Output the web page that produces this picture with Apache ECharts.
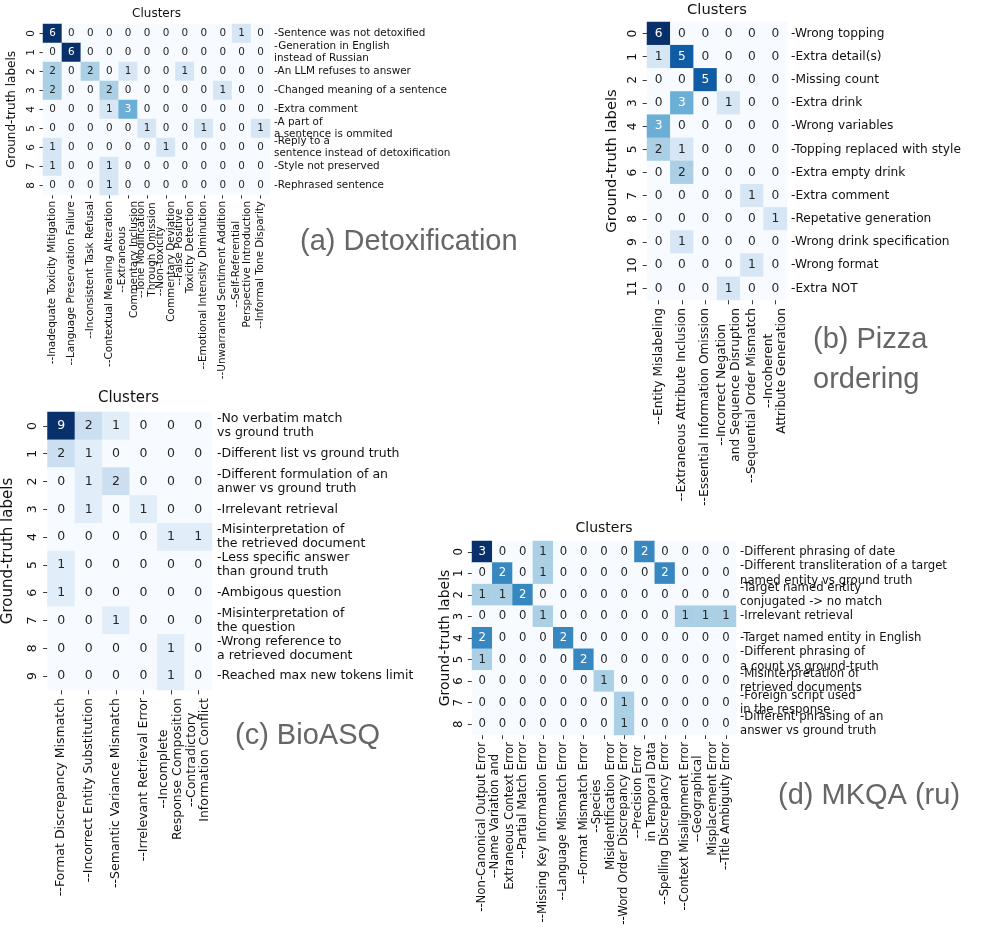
<!DOCTYPE html>
<html><head><meta charset="utf-8">
<script src="https://cdn.jsdelivr.net/npm/echarts@6/dist/echarts.min.js"></script>
<style>html,body{margin:0;padding:0;background:#fff}#c{width:996px;height:947px}</style>
</head><body><div id="c"></div>
<script>
// ---------- DATA ----------
const detoxClusters = [
  "--Inadequate Toxicity Mitigation",
  "--Language Preservation Failure",
  "--Inconsistent Task Refusal",
  "--Contextual Meaning Alteration",
  "--Extraneous\nCommentary Inclusion",
  "--Tone Modification\nThrough Omission",
  "--Non-toxicity\nCommentary Deviation",
  "--False Positive\nToxicity Detection",
  "--Emotional Intensity Diminution",
  "--Unwarranted Sentiment Addition",
  "--Self-Referential\nPerspective Introduction",
  "--Informal Tone Disparity"
];
const detoxLabels = [
  "-Sentence was not detoxified",
  "-Generation in English\ninstead of Russian",
  "-An LLM refuses to answer",
  "-Changed meaning of a sentence",
  "-Extra comment",
  "-A part of\na sentence is ommited",
  "-Reply to a\nsentence instead of detoxification",
  "-Style not preserved",
  "-Rephrased sentence"
];
const detoxValues = [
  [6,0,0,0,0,0,0,0,0,0,1,0],
  [0,6,0,0,0,0,0,0,0,0,0,0],
  [2,0,2,0,1,0,0,1,0,0,0,0],
  [2,0,0,2,0,0,0,0,0,1,0,0],
  [0,0,0,1,3,0,0,0,0,0,0,0],
  [0,0,0,0,0,1,0,0,1,0,0,1],
  [1,0,0,0,0,0,1,0,0,0,0,0],
  [1,0,0,1,0,0,0,0,0,0,0,0],
  [0,0,0,1,0,0,0,0,0,0,0,0]
];

const pizzaClusters = [
  "--Entity Mislabeling",
  "--Extraneous Attribute Inclusion",
  "--Essential Information Omission",
  "--Incorrect Negation\nand Sequence Disruption",
  "--Sequential Order Mismatch",
  "--Incoherent\nAttribute Generation"
];
const pizzaLabels = [
  "-Wrong topping","-Extra detail(s)","-Missing count","-Extra drink",
  "-Wrong variables","-Topping replaced with style","-Extra empty drink",
  "-Extra comment","-Repetative generation","-Wrong drink specification",
  "-Wrong format","-Extra NOT"
];
const pizzaValues = [
  [6,0,0,0,0,0],
  [1,5,0,0,0,0],
  [0,0,5,0,0,0],
  [0,3,0,1,0,0],
  [3,0,0,0,0,0],
  [2,1,0,0,0,0],
  [0,2,0,0,0,0],
  [0,0,0,0,1,0],
  [0,0,0,0,0,1],
  [0,1,0,0,0,0],
  [0,0,0,0,1,0],
  [0,0,0,1,0,0]
];

const bioClusters = [
  "--Format Discrepancy Mismatch",
  "--Incorrect Entity Substitution",
  "--Semantic Variance Mismatch",
  "--Irrelevant Retrieval Error",
  "--Incomplete\nResponse Composition",
  "--Contradictory\nInformation Conflict"
];
const bioLabels = [
  "-No verbatim match\nvs ground truth",
  "-Different list vs ground truth",
  "-Different formulation of an\nanwer vs ground truth",
  "-Irrelevant retrieval",
  "-Misinterpretation of\nthe retrieved document",
  "-Less specific answer\nthan ground truth",
  "-Ambigous question",
  "-Misinterpretation of\nthe question",
  "-Wrong reference to\na retrieved document",
  "-Reached max new tokens limit"
];
const bioValues = [
  [9,2,1,0,0,0],
  [2,1,0,0,0,0],
  [0,1,2,0,0,0],
  [0,1,0,1,0,0],
  [0,0,0,0,1,1],
  [1,0,0,0,0,0],
  [1,0,0,0,0,0],
  [0,0,1,0,0,0],
  [0,0,0,0,1,0],
  [0,0,0,0,1,0]
];

const mkqaClusters = [
  "--Non-Canonical Output Error",
  "--Name Variation and\nExtraneous Context Error",
  "--Partial Match Error",
  "--Missing Key Information Error",
  "--Language Mismatch Error",
  "--Format Mismatch Error",
  "--Species\nMisidentification Error",
  "--Word Order Discrepancy Error",
  "--Precision Error\nin Temporal Data",
  "--Spelling Discrepancy Error",
  "--Context Misalignment Error",
  "--Geographical\nMisplacement Error",
  "--Title Ambiguity Error"
];
const mkqaLabels = [
  "-Different phrasing of date",
  "-Different transliteration of a target\nnamed entity vs ground truth",
  "-Target named entity\nconjugated -> no match",
  "-Irrelevant retrieval",
  "-Target named entity in English",
  "-Different phrasing of\na count vs ground-truth",
  "-Misinterpretation of\nretrieved documents",
  "-Foreign script used\nin the response",
  "-Different phrasing of an\nanswer vs ground truth"
];
const mkqaValues = [
  [3,0,0,1,0,0,0,0,2,0,0,0,0],
  [0,2,0,1,0,0,0,0,0,2,0,0,0],
  [1,1,2,0,0,0,0,0,0,0,0,0,0],
  [0,0,0,1,0,0,0,0,0,0,1,1,1],
  [2,0,0,0,2,0,0,0,0,0,0,0,0],
  [1,0,0,0,0,2,0,0,0,0,0,0,0],
  [0,0,0,0,0,0,1,0,0,0,0,0,0],
  [0,0,0,0,0,0,0,1,0,0,0,0,0],
  [0,0,0,0,0,0,0,1,0,0,0,0,0]
];

const panelCaptions = ["(a) Detoxification", "(b) Pizza\nordering", "(c) BioASQ", "(d) MKQA (ru)"];
const xTitle = "Clusters";
const yTitle = "Ground-truth labels";

// ---------- LAYOUT / STYLE ----------
const FONT = 'DejaVu Sans';
const CAP_FONT = 'Liberation Sans';
const TXT = '#111';
const BLUES = ['#f7fbff','#deebf7','#c6dbef','#9ecae1','#6baed6','#4292c6','#2171b5','#08519c','#08306b'];

const panels = [
  {clusters: detoxClusters, labels: detoxLabels, values: detoxValues,
   grid:{left:43, top:24, width:227, height:171}, fs:10.4, xlh:11.5, rlh:11.5, tick:3.5, tfs:12,
   nameGap:25, xMargin:6, yMargin:7, rMargin:4, title:[156.5,14],
   cap:{x:300, y:242, lh:40}},
  {clusters: pizzaClusters, labels: pizzaLabels, values: pizzaValues,
   grid:{left:647, top:22, width:140, height:278}, fs:12.2, xlh:13.5, rlh:14, tick:4.3, tfs:14.7,
   nameGap:27, xMargin:8, yMargin:8, rMargin:4, title:[717,10],
   cap:{x:813, y:360, lh:40}},
  {clusters: bioClusters, labels: bioLabels, values: bioValues,
   grid:{left:45, top:412, width:167, height:278}, fs:12.5, xlh:13.7, rlh:14, tick:4.4, tfs:15,
   nameGap:31.5, xMargin:8, yMargin:8, rMargin:5, title:[128.5,398],
   cap:{x:235, y:736, lh:40}},
  {clusters: mkqaClusters, labels: mkqaLabels, values: mkqaValues,
   grid:{left:472, top:541, width:264, height:194}, fs:11.7, xlh:14.2, rlh:14.3, tick:4.1, tfs:14,
   nameGap:19, xMargin:7, yMargin:7, rMargin:4, title:[604,528],
   cap:{x:778, y:796, lh:40}}
];

const option = {
  animation: false,
  backgroundColor: '#fff',
  grid: [], xAxis: [], yAxis: [], series: [], visualMap: [], graphic: []
};

panels.forEach((p, i) => {
  const maxV = Math.max(...p.values.map(r => Math.max(...r)));
  option.grid.push(Object.assign({containLabel:false}, p.grid));
  const tickStyle = {show:true, alignWithLabel:true, length:p.tick, lineStyle:{color:'#222', width:0.9}};
  option.xAxis.push({
    type:'category', gridIndex:i, data:p.clusters, position:'bottom',
    axisLine:{show:false}, axisTick:tickStyle, splitLine:{show:false},
    axisLabel:{
      interval:0, rotate:90, margin:p.xMargin, hideOverlap:false,
      fontFamily:FONT, fontSize:p.fs, color:TXT, lineHeight:p.xlh,
      formatter: v => v.split('\n').map(s => '{c|' + s + '}').join('\n'),
      rich:{c:{align:'center', fontFamily:FONT, fontSize:p.fs, color:TXT, lineHeight:p.xlh}}
    }
  });
  option.yAxis.push({
    type:'category', gridIndex:i, inverse:true, position:'left',
    data:p.values.map((_, r) => String(r)),
    axisLine:{show:false}, axisTick:tickStyle, splitLine:{show:false},
    axisLabel:{interval:0, rotate:90, margin:p.yMargin, fontFamily:FONT, fontSize:p.fs, color:TXT},
    name:yTitle, nameLocation:'middle', nameGap:p.nameGap,
    nameTextStyle:{fontFamily:FONT, fontSize:p.tfs, color:TXT}
  });
  option.yAxis.push({
    type:'category', gridIndex:i, inverse:true, position:'right',
    data:p.labels,
    axisLine:{show:false}, axisTick:{show:false}, splitLine:{show:false},
    axisLabel:{interval:0, margin:p.rMargin, fontFamily:FONT, fontSize:p.fs, color:TXT, lineHeight:p.rlh}
  });
  const data = [];
  p.values.forEach((row, r) => row.forEach((v, c) => {
    data.push({value:[c, r, v], label:{color: v / maxV >= 0.5 ? '#ffffff' : '#262626'}});
  }));
  option.series.push({
    type:'heatmap', xAxisIndex:i, yAxisIndex:2*i, data:data,
    label:{show:true, fontFamily:FONT, fontSize:p.fs},
    itemStyle:{borderWidth:0},
    emphasis:{disabled:true}
  });
  option.visualMap.push({
    type:'continuous', show:false, seriesIndex:i, min:0, max:maxV, dimension:2,
    inRange:{color:BLUES}
  });
  option.graphic.push({
    type:'text', x:p.title[0], y:p.title[1],
    style:{text:xTitle, fontFamily:FONT, fontSize:p.tfs, fill:TXT,
      align:'center', verticalAlign:'middle', textAlign:'center', textVerticalAlign:'middle'}
  });
  option.graphic.push({
    type:'text', x:p.cap.x, y:p.cap.y,
    style:{text:panelCaptions[i], fontFamily:CAP_FONT, fontSize:29, fill:'#666', lineHeight:p.cap.lh,
      align:'left', verticalAlign:'middle', textAlign:'left', textVerticalAlign:'middle'}
  });
});

const chart = echarts.init(document.getElementById('c'), null, {renderer:'canvas'});
chart.setOption(option);
</script>
</body></html>
